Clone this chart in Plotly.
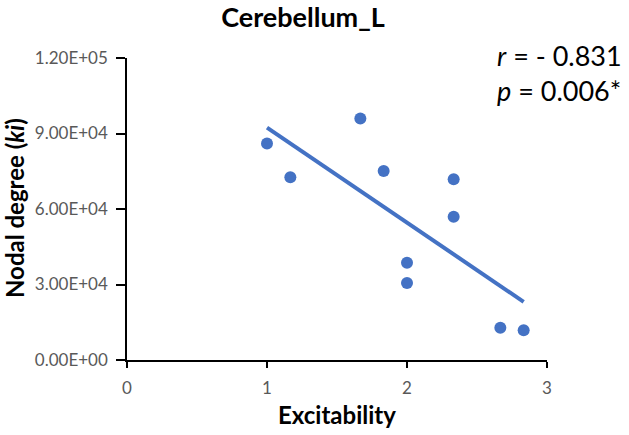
import numpy as np
import plotly.graph_objects as go

excitability = [1.0, 1.1667, 1.6667, 1.8333, 2.0, 2.0, 2.3333, 2.3333, 2.6667, 2.8333]
nodal_degree = [86000, 72600, 96000, 75100, 38600, 30600, 71800, 56900, 12800, 11800]
y_ticks = [0, 30000, 60000, 90000, 120000]
y_tick_labels = ["0.00E+00", "3.00E+04", "6.00E+04", "9.00E+04", "1.20E+05"]
x_ticks = [0, 1, 2, 3]

slope, intercept = np.polyfit(excitability, nodal_degree, 1)
xl = [min(excitability), max(excitability)]
yl = [slope * v + intercept for v in xl]

blue = "#4472C4"
font = "Lato, Open Sans, sans-serif"
W, H = 629, 435
L, R, T, B = 127, 82, 58, 75
pw, ph = W - L - R, H - T - B


def px(x):
    return (x - L) / pw


def py(y):
    return (H - B - y) / ph


fig = go.Figure()
fig.add_trace(go.Scatter(x=xl, y=yl, mode="lines", line=dict(color=blue, width=4),
                         hoverinfo="skip", showlegend=False, cliponaxis=False))
fig.add_trace(go.Scatter(x=excitability, y=nodal_degree, mode="markers",
                         marker=dict(color=blue, size=12), showlegend=False, cliponaxis=False))

fig.update_layout(
    width=W, height=H,
    margin=dict(l=L, r=R, t=T, b=B),
    paper_bgcolor="white", plot_bgcolor="white",
    font=dict(family=font),
    title=dict(text="<b>Cerebellum_L</b>", x=303 / W, xanchor="center", y=1 - 18 / H,
               yanchor="middle", font=dict(size=27, color="black", family=font)),
    xaxis=dict(range=[0, 3], tickvals=x_ticks, showgrid=False, zeroline=False,
               showline=True, linecolor="black", linewidth=1.5, automargin=False,
               ticks="outside", ticklen=6, tickwidth=1.5, tickcolor="black",
               ticklabelstandoff=6,
               tickfont=dict(size=17, color="#595959", family=font)),
    yaxis=dict(range=[0, 120000], tickvals=y_ticks, ticktext=y_tick_labels, showgrid=False,
               zeroline=False, showline=True, linecolor="black", linewidth=1.5, automargin=False,
               ticks="outside", ticklen=9, tickwidth=1.5, tickcolor="black",
               ticklabelstandoff=5,
               tickfont=dict(size=17, color="#595959", family=font)),
)
fig.add_annotation(text="<b>Nodal degree (<i>ki</i>)</b>", xref="paper", yref="paper",
                   x=px(14), y=py(208), xanchor="center", yanchor="middle", textangle=-90,
                   showarrow=False, font=dict(size=24, color="black", family=font))
fig.add_annotation(text="<b>Excitability</b>", xref="paper", yref="paper",
                   x=px(337), y=py(414), xanchor="center", yanchor="middle",
                   showarrow=False, font=dict(size=24, color="black", family=font))
fig.add_annotation(text="<i>r</i> = - 0.831", xref="paper", yref="paper",
                   x=px(495), y=py(55), xanchor="left", yanchor="middle",
                   showarrow=False, font=dict(size=27, color="black", family=font))
fig.add_annotation(text="<i>p</i> = 0.006*", xref="paper", yref="paper",
                   x=px(495), y=py(90), xanchor="left", yanchor="middle",
                   showarrow=False, font=dict(size=27, color="black", family=font))

fig.write_html("out.html", config={"displayModeBar": False},
               post_script="document.body.style.margin='0';")
